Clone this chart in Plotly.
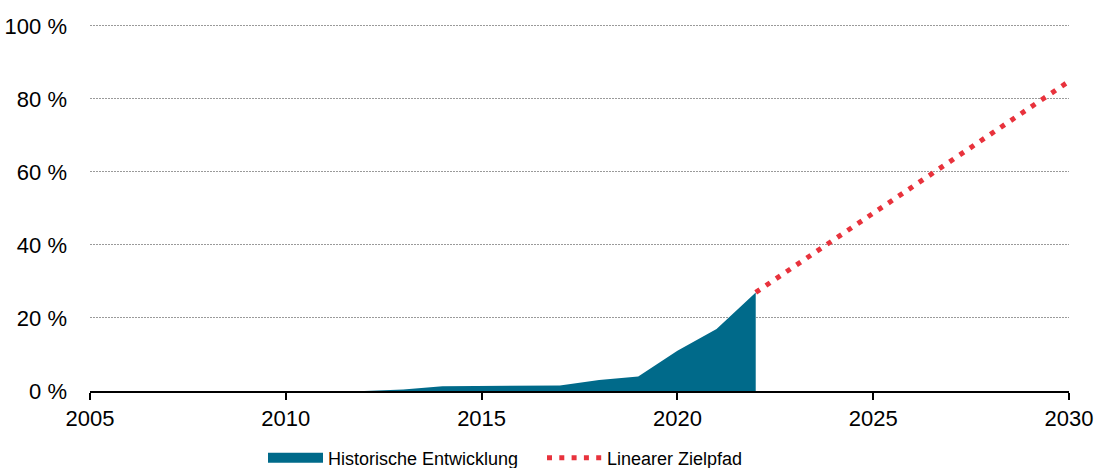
import plotly.graph_objects as go

hist_years = [2012, 2013, 2014, 2015, 2016, 2017, 2018, 2019, 2020, 2021, 2022]
hist_share = [0.0, 0.4, 1.3, 1.3, 1.35, 1.5, 3.0, 4.0, 11.0, 17.0, 27.0]

target_years = [2022, 2030]
target_share = [27.0, 84.8]

x_ticks = [2005, 2010, 2015, 2020, 2025, 2030]
y_ticks = [0, 20, 40, 60, 80, 100]

TEAL = "#006A8A"
RED = "#E8323C"
FONT = "Liberation Sans, Arial, sans-serif"

fig = go.Figure()
fig.add_trace(go.Scatter(
    x=hist_years, y=hist_share, name="Historische Entwicklung",
    mode="lines", fill="tozeroy", fillcolor=TEAL,
    line=dict(width=0, color=TEAL), hoverinfo="skip", showlegend=False,
))
# legend entry for the area (wide block swatch)
fig.add_trace(go.Scatter(
    x=[None], y=[None], name="Historische Entwicklung",
    mode="lines", line=dict(width=14, color=TEAL), hoverinfo="skip",
))
fig.add_trace(go.Scatter(
    x=target_years, y=target_share, name="Linearer Zielpfad",
    mode="lines", line=dict(color=RED, width=5, dash="5px,7.3px"),
    hoverinfo="skip",
))

fig.update_layout(
    width=1097, height=468,
    margin=dict(l=90, r=28, t=24, b=77, autoexpand=False),
    paper_bgcolor="white", plot_bgcolor="white",
    font=dict(family=FONT, size=22, color="black"),
    showlegend=True,
    legend=dict(
        orientation="h", x=(263 - 90) / 979, xanchor="left",
        y=-0.183, yanchor="middle",
        font=dict(family=FONT, size=18, color="black"),
        itemwidth=55, tracegroupgap=0, bgcolor="rgba(0,0,0,0)",
        entrywidth=209,
    ),
    xaxis=dict(
        range=[2005, 2030], tickvals=x_ticks, ticktext=[str(v) for v in x_ticks],
        showgrid=False, zeroline=False, automargin=False,
        showline=True, linecolor="black", linewidth=1.5,
        ticks="outside", ticklen=7, tickwidth=1.5, tickcolor="black",
        tickfont=dict(size=22),
    ),
    yaxis=dict(
        range=[0, 100.5], tickvals=y_ticks, ticktext=[f"{v} %" for v in y_ticks],
        showgrid=True, gridcolor="#9a9a9a", gridwidth=1, griddash="2px,1px",
        zeroline=False, showline=False, ticks="", ticklabelstandoff=22,
        automargin=False, tickfont=dict(size=22),
    ),
)

fig.write_html(
    "out.html",
    config={"displayModeBar": False},
    post_script="document.body.style.margin='0';document.body.style.overflow='hidden';",
)
